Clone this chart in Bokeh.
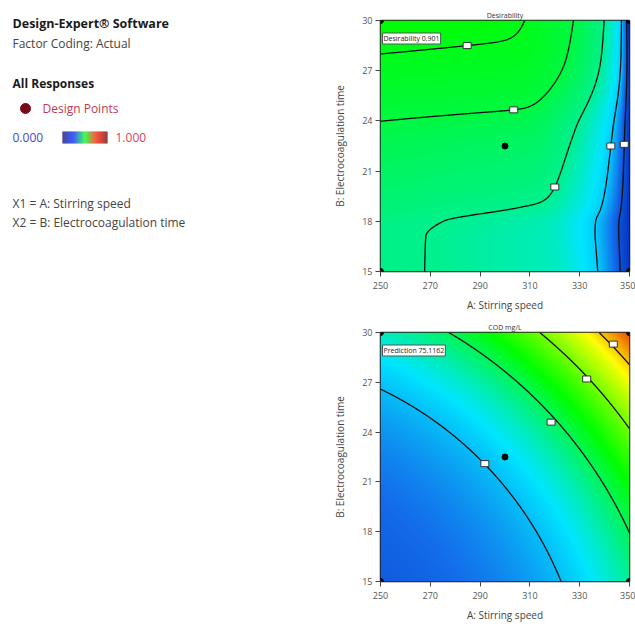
import numpy as np
from bokeh.plotting import figure
from bokeh.layouts import row, column
from bokeh.models import FixedTicker, Label, Range1d
from bokeh.core.properties import value
from bokeh.embed import file_html
from bokeh.resources import INLINE

FONT = "Open Sans"

# ---------------- factors / axes ----------------
A_RANGE = [250, 350]            # A: Stirring speed
B_RANGE = [15, 30]              # B: Electrocoagulation time
A_TICKS = [250, 270, 290, 310, 330, 350]
B_TICKS = [15, 18, 21, 24, 27, 30]
A_LABEL = "A: Stirring speed"
B_LABEL = "B: Electrocoagulation time"

# ---------------- design points ----------------
DP_A = [250, 250, 350, 350, 300]
DP_B = [15, 30, 15, 30, 22.5]

# ---------------- COD model (coded factors a, b) ----------------
# Q = q0 + qa*a + qb*b + qaa*a^2 + qbb*b^2 ;  COD = c0 + c1*Q^2
COD_Q = [9.563, 4.54, 4.20, 1.0, 1.0]
COD_C = [62.0, 0.1079]
COD_LEVELS = [70, 80, 90, 100]
COD_COLOR_RANGE = [56.25, 111.3]
COD_LABEL_A = [291.9, 318.5, 332.8, 343.5]
COD_LABEL_B = [22.1, 24.6, 27.2, 29.3]
COD_TITLE = "COD mg/L"
COD_FLAG = "Prediction 75.1162"

# ---------------- Desirability model: D = sqrt(d1*d2) ----------------
DES_P_B = [-1.0, -0.72, -0.60, -0.50, 0.15, 0.70, 1.0]   # profile of d1 along b
DES_P_V = [0.2145, 0.2150, 0.222, 0.250, 0.420, 0.810, 0.960]
DES_Q = 0.05                                             # d1 slope along a
DES_A0 = [1.016, -0.016]                                 # d2 zero line  a0(b)
DES_W = [0.745, 0.155]                                   # d2 width      W(b)
DES_LABEL_A = [284.8, 303.5, 320.0, 342.5, 347.9]
DES_LABEL_B = [28.5, 24.66, 20.05, 22.5, 22.6]
DES_LEVEL_COLOR = [0.48, 0.45, 0.39, 0.27, 0.10]
DES_TITLE = "Desirability"
DES_FLAG = "Desirability 0.901"

# ---------------- colour ramp ----------------
RAMP_POS = [0.0, 0.15, 0.30, 0.50, 0.75, 0.95, 1.0]
RAMP_R = [0, 20, 0, 0, 255, 230, 170]
RAMP_G = [25, 110, 230, 255, 255, 30, 0]
RAMP_B = [175, 235, 255, 0, 0, 0, 0]
LEGEND_BAR = ["#0a0a78", "#0028ff", "#00ff20", "#ff2000", "#7a0000"]


def coded(A, B):
    return (A - 300.0) / 50.0, (B - 22.5) / 7.5


def pchip(xk, yk, x):
    xk = np.asarray(xk, float)
    yk = np.asarray(yk, float)
    h = np.diff(xk)
    d = np.diff(yk) / h
    m = np.zeros_like(yk)
    for i in range(1, len(xk) - 1):
        if d[i - 1] * d[i] > 0:
            w1 = 2 * h[i] + h[i - 1]
            w2 = h[i] + 2 * h[i - 1]
            m[i] = (w1 + w2) / (w1 / d[i - 1] + w2 / d[i])
    m[0] = d[0]
    m[-1] = d[-1]
    idx = np.clip(np.searchsorted(xk, x) - 1, 0, len(h) - 1)
    t = (x - xk[idx]) / h[idx]
    h00 = 2 * t**3 - 3 * t**2 + 1
    h10 = t**3 - 2 * t**2 + t
    h01 = -2 * t**3 + 3 * t**2
    h11 = t**3 - t**2
    return h00 * yk[idx] + h10 * h[idx] * m[idx] + h01 * yk[idx + 1] + h11 * h[idx] * m[idx + 1]


def cod(A, B):
    a, b = coded(A, B)
    q = COD_Q[0] + COD_Q[1] * a + COD_Q[2] * b + COD_Q[3] * a**2 + COD_Q[4] * b**2
    return COD_C[0] + COD_C[1] * q**2


def des(A, B):
    a, b = coded(np.asarray(A, float), np.asarray(B, float))
    d1 = pchip(DES_P_B, DES_P_V, b) - DES_Q * (a + 1)
    a0 = DES_A0[0] + DES_A0[1] * b
    w = DES_W[0] + DES_W[1] * b
    x = np.clip((a0 - a) / w, 0, None)
    d2 = x / (1 + x**16) ** (1 / 16)
    return np.sqrt(np.clip(d1, 0, None) * d2)


def ramp_rgba(f):
    f = np.clip(f, 0, 1)
    ny, nx = f.shape
    img = np.empty((ny, nx), dtype=np.uint32)
    v = img.view(dtype=np.uint8).reshape((ny, nx, 4))
    v[..., 0] = np.interp(f, RAMP_POS, RAMP_R).astype(np.uint8)
    v[..., 1] = np.interp(f, RAMP_POS, RAMP_G).astype(np.uint8)
    v[..., 2] = np.interp(f, RAMP_POS, RAMP_B).astype(np.uint8)
    v[..., 3] = 255
    return img


NX, NY = 300, 300
As = np.linspace(A_RANGE[0], A_RANGE[1], NX)
Bs = np.linspace(B_RANGE[0], B_RANGE[1], NY)
AA, BB = np.meshgrid(As, Bs)


def panel(height, top, bottom, title, Z, F, levels, lab_a, lab_b, flag):
    p = figure(width=315, height=height, x_range=Range1d(*A_RANGE), y_range=Range1d(*B_RANGE),
               min_border_left=60, min_border_right=6, min_border_top=top, min_border_bottom=bottom,
               toolbar_location=None, output_backend="svg", title=title)
    p.title.align = "center"
    p.title.text_font = FONT
    p.title.text_font_size = "7px"
    p.title.text_font_style = "normal"
    p.title.text_color = "#333333"
    p.title.standoff = 2
    p.title.offset = 0
    p.image_rgba(image=[ramp_rgba(F)], x=A_RANGE[0], y=B_RANGE[0],
                 dw=A_RANGE[1] - A_RANGE[0], dh=B_RANGE[1] - B_RANGE[0])
    p.contour(As, Bs, Z, levels=sorted(levels), line_color="#101010", line_width=1.3)
    p.rect(x=lab_a, y=lab_b, width=8, height=6, width_units="screen", height_units="screen",
           fill_color="white", line_color="#333333", line_width=1)
    p.scatter(DP_A, DP_B, size=6, color="black")
    p.grid.visible = False
    p.outline_line_color = "#202020"
    p.outline_line_width = 1.5
    p.xaxis.ticker = FixedTicker(ticks=A_TICKS)
    p.yaxis.ticker = FixedTicker(ticks=B_TICKS)
    for ax in (p.xaxis, p.yaxis):
        ax.axis_line_color = None
        ax.minor_tick_line_color = None
        ax.major_tick_out = 5
        ax.major_tick_in = 0
        ax.major_tick_line_color = "#444444"
        ax.major_label_text_font = FONT
        ax.major_label_text_font_size = "9px"
        ax.major_label_text_color = "#555555"
        ax.axis_label_text_font = FONT
        ax.axis_label_text_font_size = "10px"
        ax.axis_label_text_font_style = "normal"
        ax.axis_label_text_color = "#444444"
    p.xaxis.axis_label = A_LABEL
    p.yaxis.axis_label = B_LABEL
    p.xaxis.major_label_standoff = 5
    p.xaxis.axis_label_standoff = 6
    p.yaxis.major_label_standoff = 3
    p.yaxis.axis_label_standoff = 12
    p.add_layout(Label(x=A_RANGE[0], y=B_RANGE[1], x_offset=2, y_offset=-18, text=flag,
                       text_align="left", text_baseline="middle", text_font=FONT,
                       text_font_size="7px", text_color="#222222",
                       background_fill_color="white", border_line_color="#555555",
                       border_line_width=1, padding=1))
    return p


# ---- desirability panel ----
Zd = des(AA, BB)
des_levels = [float(des(np.array([x]), np.array([y]))[0]) for x, y in zip(DES_LABEL_A, DES_LABEL_B)]
xp = [0.0] + des_levels[::-1] + [float(Zd.max())]
fp = [0.0] + DES_LEVEL_COLOR[::-1] + [0.50]
Fd = np.interp(Zd, xp, fp)
p1 = panel(316, 20, 45, DES_TITLE, Zd, Fd, des_levels, DES_LABEL_A, DES_LABEL_B, DES_FLAG)

# ---- COD panel ----
Zc = cod(AA, BB)
Fc = (Zc - COD_COLOR_RANGE[0]) / (COD_COLOR_RANGE[1] - COD_COLOR_RANGE[0])
p2 = panel(308, 16, 41, COD_TITLE, Zc, Fc, COD_LEVELS, COD_LABEL_A, COD_LABEL_B, COD_FLAG)

# ---- left information panel ----
left = figure(width=320, height=624, x_range=Range1d(0, 320), y_range=Range1d(624, 0),
              x_axis_type=None, y_axis_type=None, min_border=0, toolbar_location=None,
              output_backend="svg")
left.grid.visible = False
left.outline_line_color = None


def txt(x, y, s, size="12px", color="#444444", style="normal"):
    left.text(x=[x], y=[y], text=[s], text_font=value(FONT), text_font_size=value(size),
              text_color=color, text_font_style=style, text_baseline="middle", text_align="left")


txt(12, 23, "Design-Expert\u00ae Software", "12.5px", "#1a1a1a", "bold")
txt(12, 43, "Factor Coding: Actual", "12px", "#444444")
txt(12, 83, "All Responses", "12px", "#1a1a1a", "bold")
left.scatter([25], [108], size=10, color="#7a0a1a")
txt(42, 108, "Design Points", "12px", "#c2394f")
txt(12, 137, "0.000", "12px", "#4646d0")
nb = 45
fr = np.linspace(0, 1, nb)
pos = np.linspace(0, 1, len(LEGEND_BAR))
rgb = np.array([[int(c[i:i + 2], 16) for i in (1, 3, 5)] for c in LEGEND_BAR])
bar_cols = ["#%02x%02x%02x" % tuple(int(np.interp(f, pos, rgb[:, k])) for k in range(3)) for f in fr]
left.quad(left=list(62 + np.arange(nb)), right=list(63 + np.arange(nb)), top=131, bottom=143,
          fill_color=bar_cols, line_color=None)
txt(115, 137, "1.000", "12px", "#e04252")
txt(12, 203, "X1 = A: Stirring speed", "12px", "#444444")
txt(12, 222, "X2 = B: Electrocoagulation time", "12px", "#444444")

layout = row(left, column(p1, p2))
open("out.html", "w").write(file_html(layout, INLINE, "Design-Expert"))
